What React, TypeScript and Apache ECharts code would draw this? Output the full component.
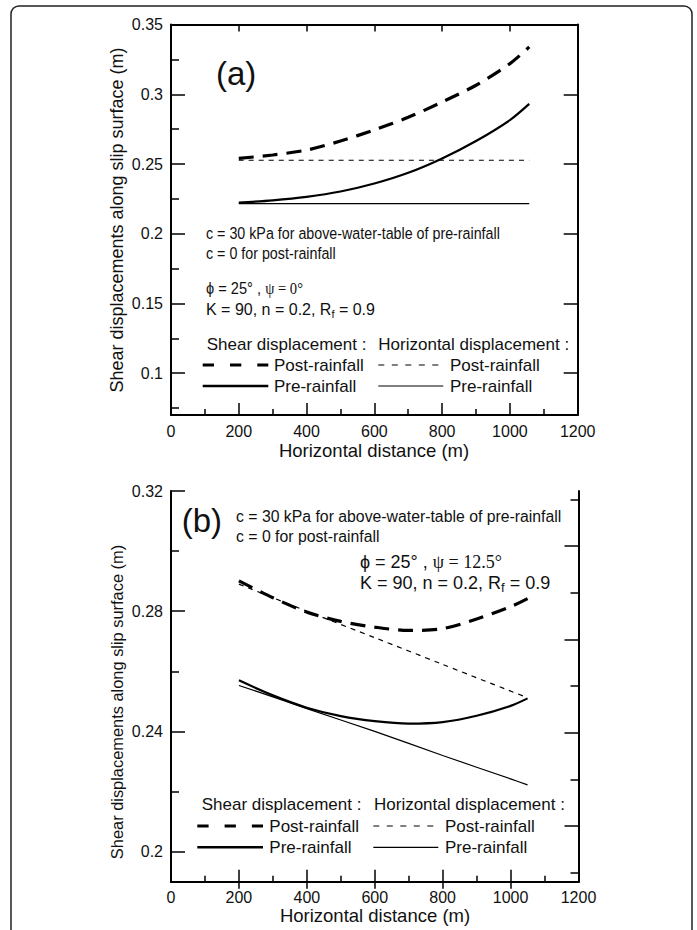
import React, { useEffect, useRef } from "react";
import * as echarts from "echarts";

// ---------- data ----------
const X_TICK_LABELS = [0, 200, 400, 600, 800, 1000, 1200];

// Panel (a)
const A_X = [200, 300, 400, 500, 600, 700, 800, 900, 1000, 1057];
const A_SHEAR_POST = [0.254, 0.2565, 0.26, 0.2665, 0.2745, 0.2835, 0.2945, 0.3065, 0.322, 0.334];
const A_SHEAR_PRE = [0.2223, 0.224, 0.2265, 0.2303, 0.236, 0.2437, 0.254, 0.2665, 0.2815, 0.2931];
const A_HORIZ_X = [200, 1057];
const A_HORIZ_POST = [0.2527, 0.2527];
const A_HORIZ_PRE = [0.2216, 0.2216];
const A_Y_LABELS = [0.1, 0.15, 0.2, 0.25, 0.3, 0.35];
const A_Y_MINOR = [0.075, 0.125, 0.175, 0.225, 0.275, 0.325];
const A_Y_RIGHT = [0.1, 0.15, 0.2, 0.25, 0.3];

// Panel (b)
const B_X = [200, 300, 400, 500, 600, 700, 800, 900, 1000, 1050];
const B_SHEAR_POST = [0.2901, 0.2845, 0.2797, 0.2766, 0.2747, 0.2736, 0.2742, 0.2774, 0.2815, 0.2842];
const B_SHEAR_PRE = [0.257, 0.252, 0.2479, 0.2451, 0.2434, 0.2426, 0.2431, 0.2452, 0.2485, 0.251];
const B_HORIZ_POST_X = [200, 400, 600, 800, 1050];
const B_HORIZ_POST = [0.289, 0.28, 0.2712, 0.2623, 0.2512];
const B_HORIZ_PRE_X = [200, 300, 400, 600, 800, 1000, 1050];
const B_HORIZ_PRE = [0.2553, 0.2515, 0.2476, 0.24, 0.232, 0.2242, 0.2222];
const B_Y_LABELS = [0.2, 0.24, 0.28, 0.32];
const B_Y_MINOR = [0.22, 0.26, 0.3];
// right-hand frame ticks of panel (b) (fraction of the axis height)
const B_RIGHT_MAJOR = [0.1425, 0.3814, 0.6203, 0.8592];
const B_RIGHT_MINOR = [0.023, 0.2619, 0.5008, 0.7397, 0.9787];

const SANS = '"Liberation Sans", Arial, Helvetica, sans-serif';
const SERIF = '"Liberation Serif", "DejaVu Serif", "Times New Roman", serif';
const INK = "#111";

const pairs = (xs: number[], ys: number[]) => xs.map((x, i) => [x, ys[i]]);

function xAxes(grid: number) {
  return [
    {
      type: "value",
      gridIndex: grid,
      position: "bottom",
      min: 0,
      max: 1200,
      interval: 200,
      axisLine: { lineStyle: { color: "#000", width: 2 } },
      axisTick: { inside: true, length: 12, lineStyle: { color: "#000", width: 1.5 } },
      minorTick: { show: true, splitNumber: 2, length: 6, lineStyle: { color: "#000", width: 1.5 } },
      splitLine: { show: false },
      minorSplitLine: { show: false },
      axisLabel: {
        fontSize: 16,
        color: INK,
        fontFamily: SANS,
        margin: 8,
        customValues: X_TICK_LABELS,
        formatter: (v: number) => String(v),
      },
    },
    {
      type: "value",
      gridIndex: grid,
      position: "top",
      min: 0,
      max: 1200,
      interval: 200,
      axisLine: { lineStyle: { color: "#000", width: 2 } },
      axisTick: { inside: true, length: 7, customValues: [200, 400, 600, 800, 1000], lineStyle: { color: "#000", width: 1.5 } },
      splitLine: { show: false },
      axisLabel: { show: false },
    },
  ];
}

function tickAxis(grid: number, pos: string, min: number, max: number, ticks: number[], len: number, showLine: boolean) {
  return {
    type: "value",
    gridIndex: grid,
    position: pos,
    min,
    max,
    axisLine: { show: showLine, onZero: false, lineStyle: { color: "#000", width: 2 } },
    axisTick: { show: true, inside: true, length: len, customValues: ticks, lineStyle: { color: "#000", width: 1.5 } },
    splitLine: { show: false },
    axisLabel: { show: false },
  };
}

function txt(x: number, y: number, text: string, size: number, extra: any = {}, sx = 1) {
  return {
    type: "text",
    x,
    y,
    scaleX: sx,
    silent: true,
    style: {
      x: 0,
      y: 0,
      text,
      fill: INK,
      font: `${size}px ${SANS}`,
      textVerticalAlign: "middle",
      ...extra,
    },
  };
}

function richLine(x: number, y: number, text: string, size: number, sx = 1) {
  return {
    type: "text",
    x,
    y,
    scaleX: sx,
    silent: true,
    style: {
      x: 0,
      y: 0,
      text,
      fill: INK,
      textVerticalAlign: "middle",
      rich: {
        n: { fontSize: size, fontFamily: SANS, fill: INK, lineHeight: size + 4 },
        g: { fontSize: size, fontFamily: SERIF, fill: INK, lineHeight: size + 4 },
        sub: { fontSize: Math.round(size * 0.7), fontFamily: SANS, fill: INK, verticalAlign: "bottom", lineHeight: size + 4 },
      },
    },
  };
}

function seg(x1: number, x2: number, y: number, w: number, dash?: number[]) {
  return {
    type: "line",
    silent: true,
    shape: { x1, y1: y, x2, y2: y },
    style: { stroke: "#000", lineWidth: w, lineDash: dash },
  };
}

const LEG = 17;
function legend(hx1: number, hx2: number, y0: number, y1: number, y2: number, s1: number, s2: number, t1: number, h1: number, h2: number, h2b: number, t2: number) {
  return [
    txt(hx1, y0, "Shear displacement :", LEG),
    txt(hx2, y0, "Horizontal displacement :", LEG),
    seg(s1, s2, y1, 3.2, [11.3, 16]),
    txt(t1, y1, "Post-rainfall", LEG),
    seg(h1, h2, y1, 1.2, [6, 7.5]),
    txt(t2, y1, "Post-rainfall", LEG),
    seg(s1, s2, y2, 2.4),
    txt(t1, y2, "Pre-rainfall", LEG),
    seg(h1, h2b, y2, 1.2),
    txt(t2, y2, "Pre-rainfall", LEG),
  ];
}

const line = (xi: number, yi: number, data: number[][], width: number, dash?: number[]) => ({
  type: "line",
  xAxisIndex: xi,
  yAxisIndex: yi,
  data,
  showSymbol: false,
  symbol: "none",
  smooth: 0.3,
  lineStyle: { color: "#000", width, type: dash ? dash : "solid" },
});

export default function App() {
  const ref = useRef<HTMLDivElement>(null);
  useEffect(() => {
    if (!ref.current) return;
    const chart = echarts.init(ref.current, undefined, { renderer: "svg" });
    const yLabel = { fontSize: 16, color: INK, fontFamily: SANS, margin: 8 };
    const option: any = {
      animation: false,
      backgroundColor: "#fff",
      grid: [
        { left: 171, top: 24.6, width: 406.7, height: 390.4 },
        { left: 171, top: 491, width: 407.5, height: 390.7 },
      ],
      xAxis: [...xAxes(0), ...xAxes(1)],
      yAxis: [
        {
          type: "value",
          gridIndex: 0,
          position: "left",
          min: 0.07,
          max: 0.35,
          axisLine: { onZero: false, lineStyle: { color: "#000", width: 2 } },
          axisTick: { inside: true, length: 14, customValues: A_Y_LABELS, lineStyle: { color: "#000", width: 1.5 } },
          splitLine: { show: false },
          axisLabel: { ...yLabel, customValues: A_Y_LABELS },
        },
        tickAxis(0, "left", 0.07, 0.35, A_Y_MINOR, 8, false),
        tickAxis(0, "right", 0.07, 0.35, A_Y_RIGHT, 14, true),
        {
          type: "value",
          gridIndex: 1,
          position: "left",
          min: 0.19,
          max: 0.32,
          axisLine: { onZero: false, lineStyle: { color: "#000", width: 2 } },
          axisTick: { inside: true, length: 14, customValues: B_Y_LABELS, lineStyle: { color: "#000", width: 1.5 } },
          splitLine: { show: false },
          axisLabel: { ...yLabel, customValues: B_Y_LABELS },
        },
        tickAxis(1, "left", 0.19, 0.32, B_Y_MINOR, 8, false),
        tickAxis(1, "right", 0, 1, B_RIGHT_MAJOR, 14, true),
        tickAxis(1, "right", 0, 1, B_RIGHT_MINOR, 8, false),
      ],
      series: [
        line(0, 0, pairs(A_X, A_SHEAR_POST), 3.2, [15, 9]),
        line(0, 0, pairs(A_X, A_SHEAR_PRE), 2.2),
        line(0, 0, pairs(A_HORIZ_X, A_HORIZ_POST), 1.2, [5, 5]),
        line(0, 0, pairs(A_HORIZ_X, A_HORIZ_PRE), 1.2),
        line(2, 3, pairs(B_X, B_SHEAR_POST), 3.2, [15, 9]),
        line(2, 3, pairs(B_X, B_SHEAR_PRE), 2.2),
        line(2, 3, pairs(B_HORIZ_POST_X, B_HORIZ_POST), 1.2, [5, 5]),
        line(2, 3, pairs(B_HORIZ_PRE_X, B_HORIZ_PRE), 1.2),
      ],
      graphic: [
        {
          type: "rect",
          silent: true,
          shape: { x: 11, y: 6, width: 681, height: 960, r: 8 },
          style: { fill: "none", stroke: "#222", lineWidth: 1.5 },
        },
        // axis titles
        txt(374, 450, "Horizontal distance (m)", 18.5, { textAlign: "center" }),
        txt(375, 915, "Horizontal distance (m)", 18.5, { textAlign: "center" }),
        { ...txt(117, 220, "Shear displacements along slip surface (m)", 18, { textAlign: "center" }), rotation: Math.PI / 2 },
        { ...txt(117, 702, "Shear displacements along slip surface (m)", 16.4, { textAlign: "center" }), rotation: Math.PI / 2 },
        // panel (a)
        txt(216, 73, "(a)", 33),
        txt(206, 233, "c = 30 kPa for above-water-table of pre-rainfall", 17, {}, 0.84),
        txt(206, 252.7, "c = 0 for post-rainfall", 17, {}, 0.84),
        richLine(206, 288, "{n|ϕ = 25° , }{g|ψ = 0°}", 17, 0.86),
        richLine(206, 309, "{n|K = 90, n = 0.2, R}{sub|f}{n| = 0.9}", 16),
        ...legend(206.7, 378.3, 344.3, 365, 386, 202.7, 268.3, 274, 378.3, 438.3, 443.3, 450),
        // panel (b)
        txt(181.7, 520, "(b)", 33),
        txt(236, 516.7, "c = 30 kPa for above-water-table of pre-rainfall", 15.8),
        txt(236, 536, "c = 0 for post-rainfall", 15.8),
        richLine(360, 561.7, "{n|ϕ = 25° , }{g|ψ = 12.5°}", 18),
        richLine(360, 582.7, "{n|K = 90, n = 0.2, R}{sub|f}{n| = 0.9}", 18),
        ...legend(201.7, 374, 804, 826, 847.3, 197.3, 263, 269.3, 373.3, 433.3, 438.3, 445),
      ],
    };
    chart.setOption(option);
    return () => chart.dispose();
  }, []);
  return (
    <div
      ref={ref}
      style={{ position: "absolute", left: 0, top: 0, width: 697, height: 930, background: "#fff" }}
    />
  );
}
